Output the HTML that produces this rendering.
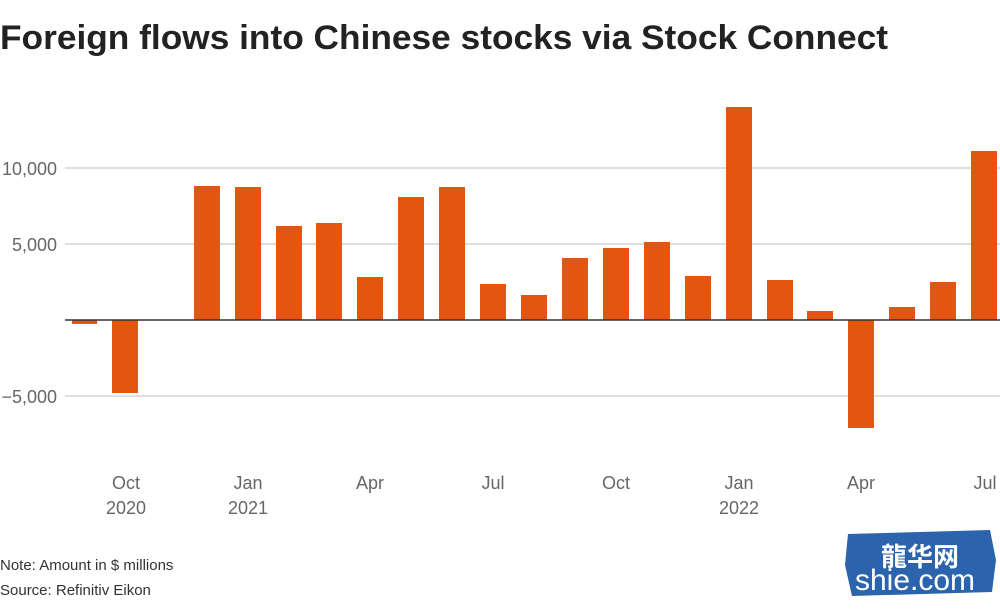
<!DOCTYPE html>
<html><head><meta charset="utf-8"><style>
body{margin:0;background:#fff;width:1000px;height:605px;overflow:hidden;font-family:"Liberation Sans",sans-serif}
</style></head><body>
<svg width="1000" height="605" xmlns="http://www.w3.org/2000/svg" font-family="Liberation Sans, sans-serif">
<text x="0" y="49" font-size="34" font-weight="bold" fill="#222" textLength="888" lengthAdjust="spacingAndGlyphs">Foreign flows into Chinese stocks via Stock Connect</text>
<g stroke="#d4d4d4" stroke-width="1.5">
<line x1="65" x2="1000" y1="168" y2="168"/>
<line x1="65" x2="1000" y1="244" y2="244"/>
<line x1="65" x2="1000" y1="396" y2="396"/>
</g>
<g font-size="18" fill="#666" text-anchor="end">
<text x="57" y="175">10,000</text>
<text x="57" y="251">5,000</text>
<text x="57" y="403">−5,000</text>
</g>
<g fill="#e4560f">
<rect x="72" y="320" width="25" height="4"/>
<rect x="112" y="320" width="26" height="73"/>
<rect x="194" y="186" width="26" height="134"/>
<rect x="235" y="187" width="26" height="133"/>
<rect x="276" y="226" width="26" height="94"/>
<rect x="316" y="223" width="26" height="97"/>
<rect x="357" y="277" width="26" height="43"/>
<rect x="398" y="197" width="26" height="123"/>
<rect x="439" y="187" width="26" height="133"/>
<rect x="480" y="284" width="26" height="36"/>
<rect x="521" y="295" width="26" height="25"/>
<rect x="562" y="258" width="26" height="62"/>
<rect x="603" y="248" width="26" height="72"/>
<rect x="644" y="242" width="26" height="78"/>
<rect x="685" y="276" width="26" height="44"/>
<rect x="726" y="107" width="26" height="213"/>
<rect x="767" y="280" width="26" height="40"/>
<rect x="807" y="311" width="26" height="9"/>
<rect x="848" y="320" width="26" height="108"/>
<rect x="889" y="307" width="26" height="13"/>
<rect x="930" y="282" width="26" height="38"/>
<rect x="971" y="151" width="26" height="169"/>
</g>
<line x1="65" x2="1000" y1="320" y2="320" stroke="#333" stroke-width="1.5"/>
<g font-size="18" fill="#666" text-anchor="middle">
<text x="126" y="489">Oct</text><text x="126" y="514">2020</text>
<text x="248" y="489">Jan</text><text x="248" y="514">2021</text>
<text x="370" y="489">Apr</text>
<text x="493" y="489">Jul</text>
<text x="616" y="489">Oct</text>
<text x="739" y="489">Jan</text><text x="739" y="514">2022</text>
<text x="861" y="489">Apr</text>
<text x="985" y="489">Jul</text>
</g>
<g font-size="15" fill="#333">
<text x="0" y="570">Note: Amount in $ millions</text>
<text x="0" y="595">Source: Refinitiv Eikon</text>
</g>
<path d="M848 534 L990 530 L996 560 L992 592 L852 596 L845 565 Z" fill="#2b63ad"/>
<text x="920" y="566" font-size="26" fill="#fff" text-anchor="middle" font-family="Noto Sans CJK SC, sans-serif" font-weight="bold">龍华网</text>
<text x="915" y="590" font-size="30" fill="#fff" text-anchor="middle">shie.com</text>
</svg>
</body></html>
